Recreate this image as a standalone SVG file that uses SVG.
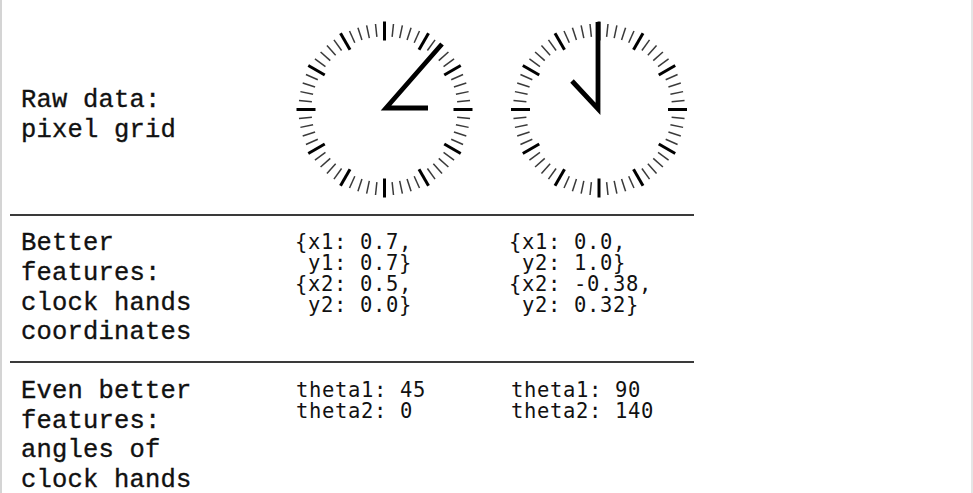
<svg xmlns="http://www.w3.org/2000/svg" xmlns:xlink="http://www.w3.org/1999/xlink" width="973" height="493" viewBox="0 0 973 493">
<style>
.lbl{font-family:"Liberation Mono","DejaVu Sans Mono",monospace;font-size:25.5px;letter-spacing:0.2px;fill:#111;stroke:#111;stroke-width:0.35}
.dat{font-family:"DejaVu Sans Mono","Liberation Mono",monospace;font-size:20.5px;letter-spacing:0.65px;fill:#111}
.rule{stroke:#3a3a3a;stroke-width:2.2}
.frame{stroke:#d4d4d4}
.mt{stroke:#3a3a3a;stroke-width:1.5}
.ht{stroke:#000;stroke-width:3}
.hand{fill:none;stroke:#000;stroke-width:4.8;stroke-linejoin:miter;stroke-miterlimit:10}
</style>
<defs>
<line id="m" class="mt" x1="0" y1="-86" x2="0" y2="-73"/>
<line id="h" class="ht" x1="0" y1="-88" x2="0" y2="-69"/>
<g id="dial">
<use xlink:href="#h" transform="rotate(0)"/><use xlink:href="#m" transform="rotate(6)"/><use xlink:href="#m" transform="rotate(12)"/><use xlink:href="#m" transform="rotate(18)"/><use xlink:href="#m" transform="rotate(24)"/>
<use xlink:href="#h" transform="rotate(30)"/><use xlink:href="#m" transform="rotate(36)"/><use xlink:href="#m" transform="rotate(42)"/><use xlink:href="#m" transform="rotate(48)"/><use xlink:href="#m" transform="rotate(54)"/>
<use xlink:href="#h" transform="rotate(60)"/><use xlink:href="#m" transform="rotate(66)"/><use xlink:href="#m" transform="rotate(72)"/><use xlink:href="#m" transform="rotate(78)"/><use xlink:href="#m" transform="rotate(84)"/>
<use xlink:href="#h" transform="rotate(90)"/><use xlink:href="#m" transform="rotate(96)"/><use xlink:href="#m" transform="rotate(102)"/><use xlink:href="#m" transform="rotate(108)"/><use xlink:href="#m" transform="rotate(114)"/>
<use xlink:href="#h" transform="rotate(120)"/><use xlink:href="#m" transform="rotate(126)"/><use xlink:href="#m" transform="rotate(132)"/><use xlink:href="#m" transform="rotate(138)"/><use xlink:href="#m" transform="rotate(144)"/>
<use xlink:href="#h" transform="rotate(150)"/><use xlink:href="#m" transform="rotate(156)"/><use xlink:href="#m" transform="rotate(162)"/><use xlink:href="#m" transform="rotate(168)"/><use xlink:href="#m" transform="rotate(174)"/>
<use xlink:href="#h" transform="rotate(180)"/><use xlink:href="#m" transform="rotate(186)"/><use xlink:href="#m" transform="rotate(192)"/><use xlink:href="#m" transform="rotate(198)"/><use xlink:href="#m" transform="rotate(204)"/>
<use xlink:href="#h" transform="rotate(210)"/><use xlink:href="#m" transform="rotate(216)"/><use xlink:href="#m" transform="rotate(222)"/><use xlink:href="#m" transform="rotate(228)"/><use xlink:href="#m" transform="rotate(234)"/>
<use xlink:href="#h" transform="rotate(240)"/><use xlink:href="#m" transform="rotate(246)"/><use xlink:href="#m" transform="rotate(252)"/><use xlink:href="#m" transform="rotate(258)"/><use xlink:href="#m" transform="rotate(264)"/>
<use xlink:href="#h" transform="rotate(270)"/><use xlink:href="#m" transform="rotate(276)"/><use xlink:href="#m" transform="rotate(282)"/><use xlink:href="#m" transform="rotate(288)"/><use xlink:href="#m" transform="rotate(294)"/>
<use xlink:href="#h" transform="rotate(300)"/><use xlink:href="#m" transform="rotate(306)"/><use xlink:href="#m" transform="rotate(312)"/><use xlink:href="#m" transform="rotate(318)"/><use xlink:href="#m" transform="rotate(324)"/>
<use xlink:href="#h" transform="rotate(330)"/><use xlink:href="#m" transform="rotate(336)"/><use xlink:href="#m" transform="rotate(342)"/><use xlink:href="#m" transform="rotate(348)"/><use xlink:href="#m" transform="rotate(354)"/>
</g>
</defs>
<rect width="973" height="493" fill="#fff"/>
<g id="frame">
<line class="frame" x1="1" y1="0" x2="1" y2="493" stroke-width="2"/>
<line class="frame" x1="972" y1="0" x2="972" y2="493" stroke-width="1.2"/>
</g>
<g id="rules">
<line class="rule" x1="10" y1="215" x2="694" y2="215"/>
<line class="rule" x1="10" y1="362" x2="694" y2="362"/>
</g>
<g id="row1-label">
<text class="lbl" x="21" y="107">Raw data:</text>
<text class="lbl" x="21" y="137">pixel grid</text>
</g>
<g id="clock1">
<use xlink:href="#dial" transform="translate(384.5,109.5)"/>
<polyline class="hand" points="442,44 386,108 428,108"/>
</g>
<g id="clock2">
<use xlink:href="#dial" transform="translate(599,109.5)"/>
<polyline class="hand" points="572,81 598,109 598,22"/>
</g>
<g id="row2-label">
<text class="lbl" x="21" y="250">Better</text>
<text class="lbl" x="21" y="280">features:</text>
<text class="lbl" x="21" y="310">clock hands</text>
<text class="lbl" x="21" y="339">coordinates</text>
</g>
<g id="row2-col1">
<text class="dat" x="295" y="249" xml:space="preserve">{x1: 0.7,</text>
<text class="dat" x="295" y="270" xml:space="preserve"> y1: 0.7}</text>
<text class="dat" x="295" y="291" xml:space="preserve">{x2: 0.5,</text>
<text class="dat" x="295" y="312" xml:space="preserve"> y2: 0.0}</text>
</g>
<g id="row2-col2">
<text class="dat" x="509" y="249" xml:space="preserve">{x1: 0.0,</text>
<text class="dat" x="509" y="270" xml:space="preserve"> y2: 1.0}</text>
<text class="dat" x="509" y="291" xml:space="preserve">{x2: -0.38,</text>
<text class="dat" x="509" y="312" xml:space="preserve"> y2: 0.32}</text>
</g>
<g id="row3-label">
<text class="lbl" x="21" y="398">Even better</text>
<text class="lbl" x="21" y="428">features:</text>
<text class="lbl" x="21" y="457">angles of</text>
<text class="lbl" x="21" y="487">clock hands</text>
</g>
<g id="row3-col1">
<text class="dat" x="296" y="397">theta1: 45</text>
<text class="dat" x="296" y="418">theta2: 0</text>
</g>
<g id="row3-col2">
<text class="dat" x="511" y="397">theta1: 90</text>
<text class="dat" x="511" y="418">theta2: 140</text>
</g>
</svg>
